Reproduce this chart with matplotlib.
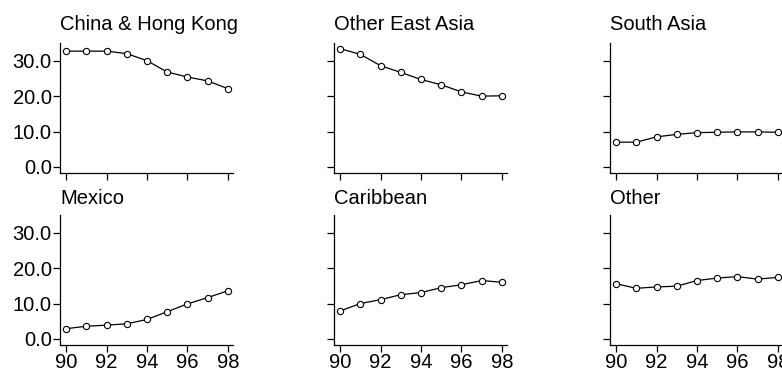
import matplotlib
matplotlib.use("Agg")
import matplotlib.pyplot as plt
from matplotlib.ticker import FormatStrFormatter

plt.rcParams['font.family'] = ['Liberation Sans', 'DejaVu Sans']

years = [90, 91, 92, 93, 94, 95, 96, 97, 98]
regions = ["China & Hong Kong", "Other East Asia", "South Asia",
           "Mexico", "Caribbean", "Other"]
china_hk = [32.7, 32.7, 32.7, 32.0, 30.0, 26.8, 25.4, 24.3, 22.1]
other_east_asia = [33.4, 31.8, 28.6, 26.7, 24.7, 23.2, 21.2, 20.0, 20.1]
south_asia = [7.0, 7.0, 8.5, 9.2, 9.7, 9.8, 9.9, 9.9, 9.8]
mexico = [2.9, 3.6, 3.9, 4.3, 5.5, 7.7, 9.9, 11.7, 13.6]
caribbean = [7.9, 10.0, 11.1, 12.5, 13.1, 14.5, 15.3, 16.5, 16.0]
other = [15.6, 14.3, 14.7, 14.9, 16.5, 17.2, 17.6, 16.9, 17.4]
series = [china_hk, other_east_asia, south_asia, mexico, caribbean, other]

yticks = [0, 10, 20, 30]
xticks = [90, 92, 94, 96, 98]

fig = plt.figure(figsize=(7.82, 3.73), dpi=100)

lefts = [60, 334, 610]
tops = [43, 215]
w, h = 173, 130
fs = 14.5

for i, (name, vals) in enumerate(zip(regions, series)):
    row, col = divmod(i, 3)
    ax = fig.add_axes([lefts[col] / 782, 1 - (tops[row] + h) / 373,
                       w / 782, h / 373])
    ax.plot(years, vals, color='black', lw=0.9, marker='o', ms=4.5,
            mfc='white', mec='black', mew=0.8)
    ax.set_xlim(89.7, 98.25)
    ax.set_ylim(-1.7, 35)
    ax.set_xticks(xticks)
    ax.set_yticks(yticks)
    ax.yaxis.set_major_formatter(FormatStrFormatter('%.1f'))
    for s in ['top', 'right']:
        ax.spines[s].set_visible(False)
    for s in ['left', 'bottom']:
        ax.spines[s].set_linewidth(0.9)
    ax.tick_params(direction='out', length=5, width=0.9, labelsize=fs,
                   colors='black')
    ax.tick_params(axis='y', pad=1)
    ax.tick_params(axis='x', pad=0.5)
    if col != 0:
        ax.set_yticklabels([])
    if row == 0:
        ax.set_xticklabels([])
    ty = 1.1 if row == 0 else 1.085
    ax.text(0.0, ty, name, transform=ax.transAxes, fontsize=fs,
            ha='left', va='baseline')

fig.savefig('out.png', dpi=100)
